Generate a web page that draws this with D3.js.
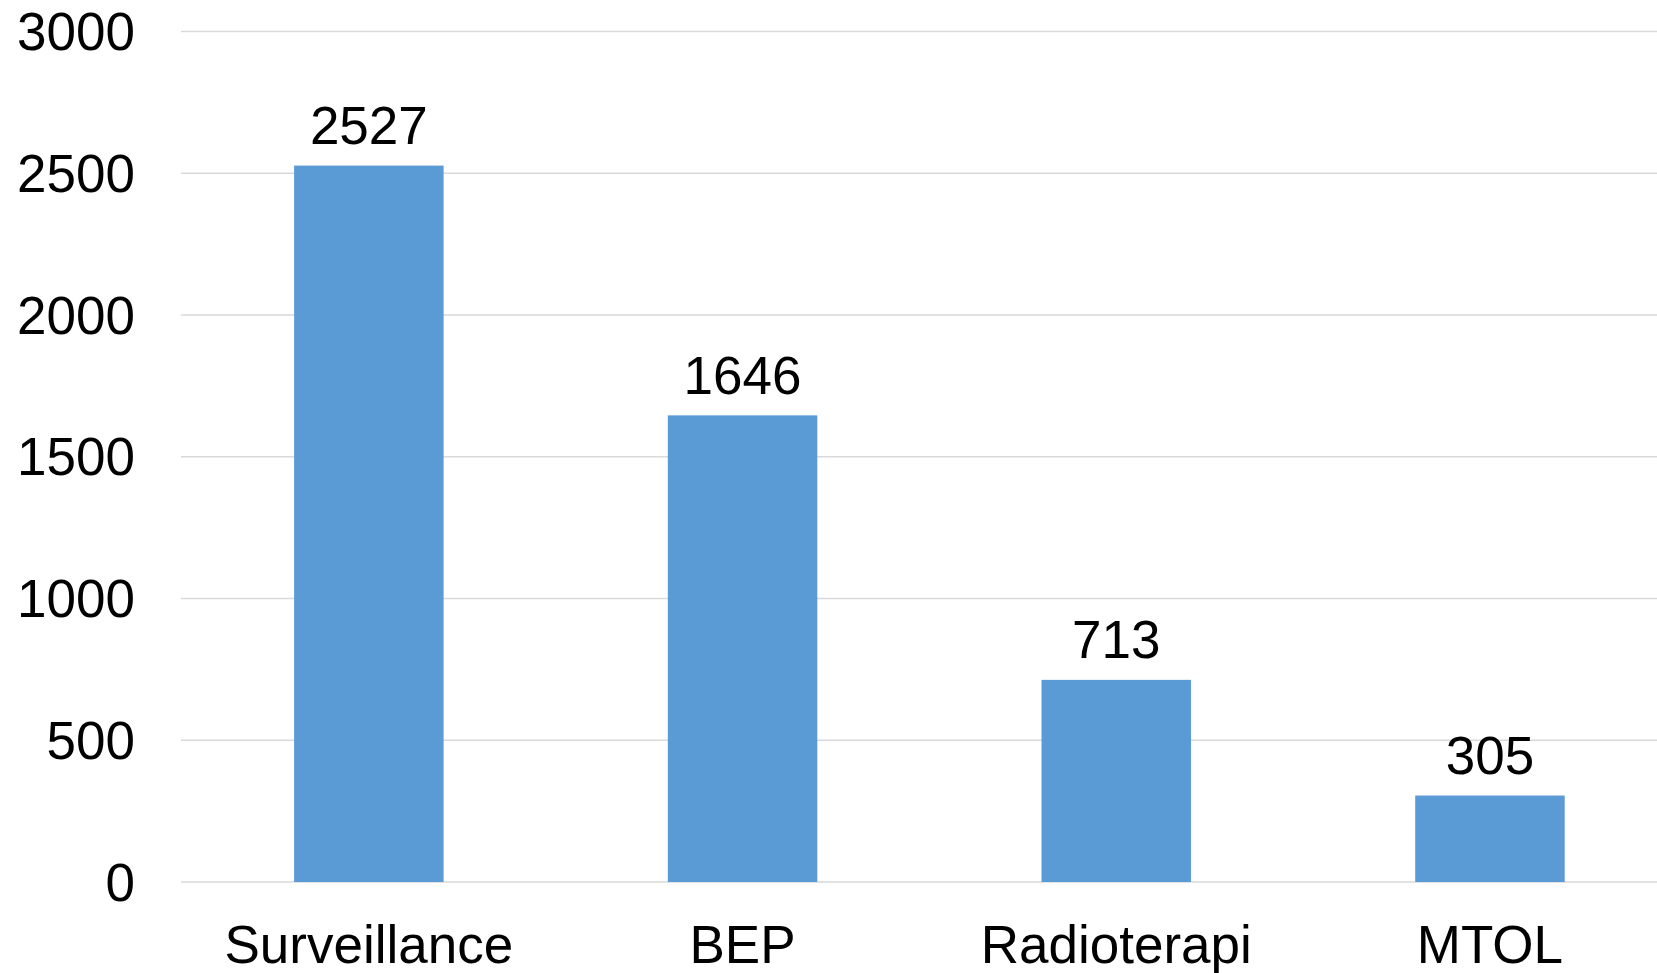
<!DOCTYPE html>
<html>
<head>
<meta charset="utf-8">
<script src="https://cdn.jsdelivr.net/npm/d3@7.9.0/dist/d3.min.js"></script>
<style>
  html, body { margin: 0; padding: 0; background: #fff; overflow: hidden; }
  svg { display: block; font-family: "Liberation Sans", Arial, sans-serif; }
</style>
</head>
<body>
<svg id="chart" width="1657" height="973"></svg>
<script>
// data
const categories = ["Surveillance", "BEP", "Radioterapi", "MTOL"];
const counts = [2527, 1646, 713, 305];
const yTicks = [0, 500, 1000, 1500, 2000, 2500, 3000];

const width = 1657, height = 973;
const plotLeft = 182, plotTop = 31.5, plotBottom = 882;
const fontSize = 53;

const svg = d3.select("#chart");

// plot area runs past the right edge of the picture
const x = d3.scaleBand()
    .domain(categories)
    .range([plotLeft, plotLeft + 4 * 373.7])
    .paddingInner(0.6)
    .paddingOuter(0.3);

const y = d3.scaleLinear()
    .domain([0, 3000])
    .range([plotBottom, plotTop]);

// gridlines
svg.append("g")
    .selectAll("line")
    .data(yTicks)
    .enter().append("line")
    .attr("x1", 181)
    .attr("x2", width)
    .attr("y1", d => y(d))
    .attr("y2", d => y(d))
    .attr("stroke", "#d9d9d9")
    .attr("stroke-width", 1.5);

// y tick labels
svg.append("g")
    .selectAll("text")
    .data(yTicks)
    .enter().append("text")
    .attr("x", 135)
    .attr("y", d => y(d))
    .attr("dy", "0.35em")
    .attr("text-anchor", "end")
    .attr("font-size", fontSize)
    .attr("fill", "#000")
    .text(d => d);

// bars
svg.append("g")
    .selectAll("rect")
    .data(categories)
    .enter().append("rect")
    .attr("x", d => x(d))
    .attr("width", x.bandwidth())
    .attr("y", (d, i) => y(counts[i]))
    .attr("height", (d, i) => y(0) - y(counts[i]))
    .attr("fill", "#5b9bd5");

// value labels
svg.append("g")
    .selectAll("text")
    .data(categories)
    .enter().append("text")
    .attr("x", d => x(d) + x.bandwidth() / 2)
    .attr("y", (d, i) => y(counts[i]) - 21.5)
    .attr("text-anchor", "middle")
    .attr("font-size", fontSize)
    .attr("fill", "#000")
    .text((d, i) => counts[i]);

// category labels
svg.append("g")
    .selectAll("text")
    .data(categories)
    .enter().append("text")
    .attr("x", d => x(d) + x.bandwidth() / 2)
    .attr("y", plotBottom + 81)
    .attr("text-anchor", "middle")
    .attr("font-size", fontSize)
    .attr("fill", "#000")
    .text(d => d);
</script>
</body>
</html>
